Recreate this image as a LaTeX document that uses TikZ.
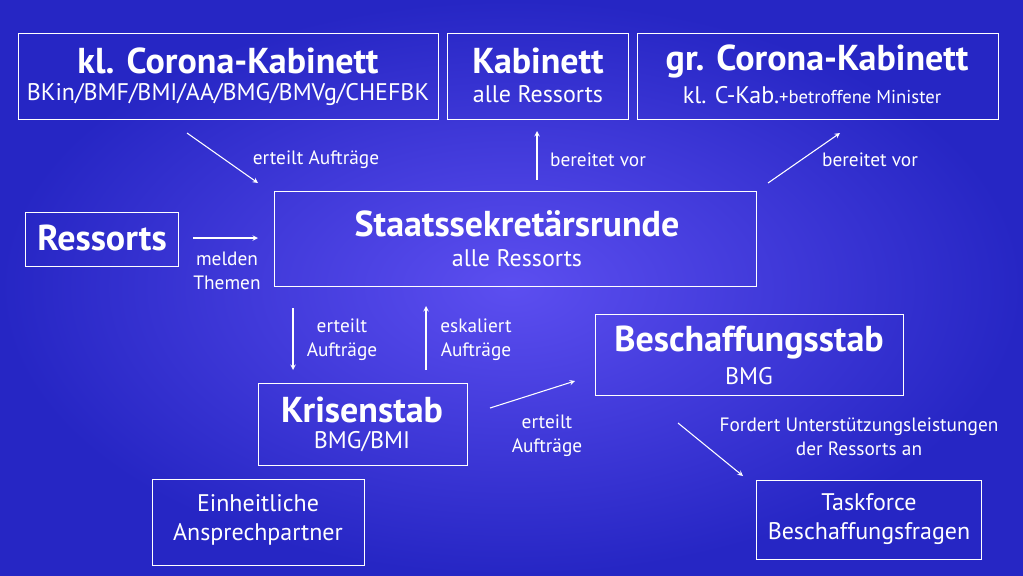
\documentclass[tikz,border=0pt]{standalone}
\usepackage{fontspec}
\setmainfont{PT Sans}
\begin{document}
\begin{tikzpicture}[x=0.75pt,y=-0.75pt,
  box/.style={draw=white,line width=0.9pt,inner sep=0pt,text=white,align=center,anchor=north west},
  tt/.style={font=\fontsize{27}{30}\selectfont\bfseries},
  st/.style={font=\fontsize{18}{22}\selectfont},
  lab/.style={text=white,align=center,font=\fontsize{14.5}{18}\selectfont},
  arr/.style={draw=white,line width=0.8pt,->,>=stealth}]
\shade[inner color={rgb,255:red,92;green,78;blue,240},outer color={rgb,255:red,38;green,38;blue,196}] (0,0) rectangle (1023,575);
\useasboundingbox (0,0) rectangle (1023,575);
\node[box,minimum width=315pt,minimum height=64.5pt] (kl) at (18,33) {};
\node[text=white,tt] (klt) at (228,61) {kl. Corona-Kabinett};
\node[text=white,st] (kls) at (228,94) {BKin/BMF/BMI/AA/BMG/BMVg/CHEFBK};
\node[box,minimum width=135.75pt,minimum height=64.5pt] (kab) at (447,33) {};
\node[text=white,tt] (kabt) at (538,61) {Kabinett};
\node[text=white,st] (kabs) at (538,94) {alle Ressorts};
\node[box,minimum width=270.75pt,minimum height=64.5pt] (gr) at (637,33) {};
\node[text=white,tt] (grt) at (817,61) {gr. Corona-Kabinett};
\node[text=white] (grs) at (812,95) {\fontsize{18}{22}\selectfont kl. C-Kab.\fontsize{14}{17}\selectfont+betroffene Minister};
\node[box,minimum width=114.75pt,minimum height=40.5pt] (res) at (25,212) {};
\node[text=white,tt] (rest) at (102,238) {Ressorts};
\node[box,minimum width=361.5pt,minimum height=71.25pt] (ss) at (274,191) {};
\node[text=white,tt] (sst) at (517,224) {Staatssekretärsrunde};
\node[text=white,st] (sss) at (517,258) {alle Ressorts};
\node[box,minimum width=231pt,minimum height=60.75pt] (bs) at (595,314) {};
\node[text=white,tt] (bst) at (749,343) {Beschaffungsstab};
\node[text=white,st] (bss) at (749,376) {BMG};
\node[box,minimum width=156.75pt,minimum height=61.5pt] (ks) at (258,383) {};
\node[text=white,tt] (kst) at (362,410) {Krisenstab};
\node[text=white,st] (kss) at (362,442) {BMG/BMI};
\node[box,minimum width=159pt,minimum height=64.5pt] (ea) at (152,479) {};
\node[text=white,st,align=center] (eat) at (258,520) {Einheitliche\\Ansprechpartner};
\node[box,minimum width=168.75pt,minimum height=59.25pt] (tf) at (756,480) {};
\node[text=white,st,align=center] (tft) at (869,519) {Taskforce\\Beschaffungsfragen};
\coordinate (a1) at (187,133); \coordinate (b1) at (258,183);
\draw[arr] (a1) -- (b1);
\node[lab] (l1) at (316,160) {erteilt Aufträge};
\coordinate (a2) at (537,180); \coordinate (b2) at (537,131);
\draw[arr] (a2) -- (b2);
\node[lab] (l2) at (598,160) {bereitet vor};
\coordinate (a3) at (768,183); \coordinate (b3) at (840,133);
\draw[arr] (a3) -- (b3);
\node[lab] (l3) at (870,160) {bereitet vor};
\coordinate (a4) at (193,238); \coordinate (b4) at (258,238);
\draw[arr] (a4) -- (b4);
\node[lab] (l4) at (227,271) {melden\\Themen};
\coordinate (a5) at (293,308); \coordinate (b5) at (293,370);
\draw[arr] (a5) -- (b5);
\node[lab] (l5) at (342,340) {erteilt\\Aufträge};
\coordinate (a6) at (426,370); \coordinate (b6) at (426,306);
\draw[arr] (a6) -- (b6);
\node[lab] (l6) at (476,340) {eskaliert\\Aufträge};
\coordinate (a7) at (490,408); \coordinate (b7) at (575,381);
\draw[arr] (a7) -- (b7);
\node[lab] (l7) at (547,436) {erteilt\\Aufträge};
\coordinate (a8) at (678,423); \coordinate (b8) at (743,476);
\draw[arr] (a8) -- (b8);
\node[lab] (l8) at (859,437) {Fordert Unterstützungsleistungen\\der Ressorts an};
\end{tikzpicture}
\end{document}
